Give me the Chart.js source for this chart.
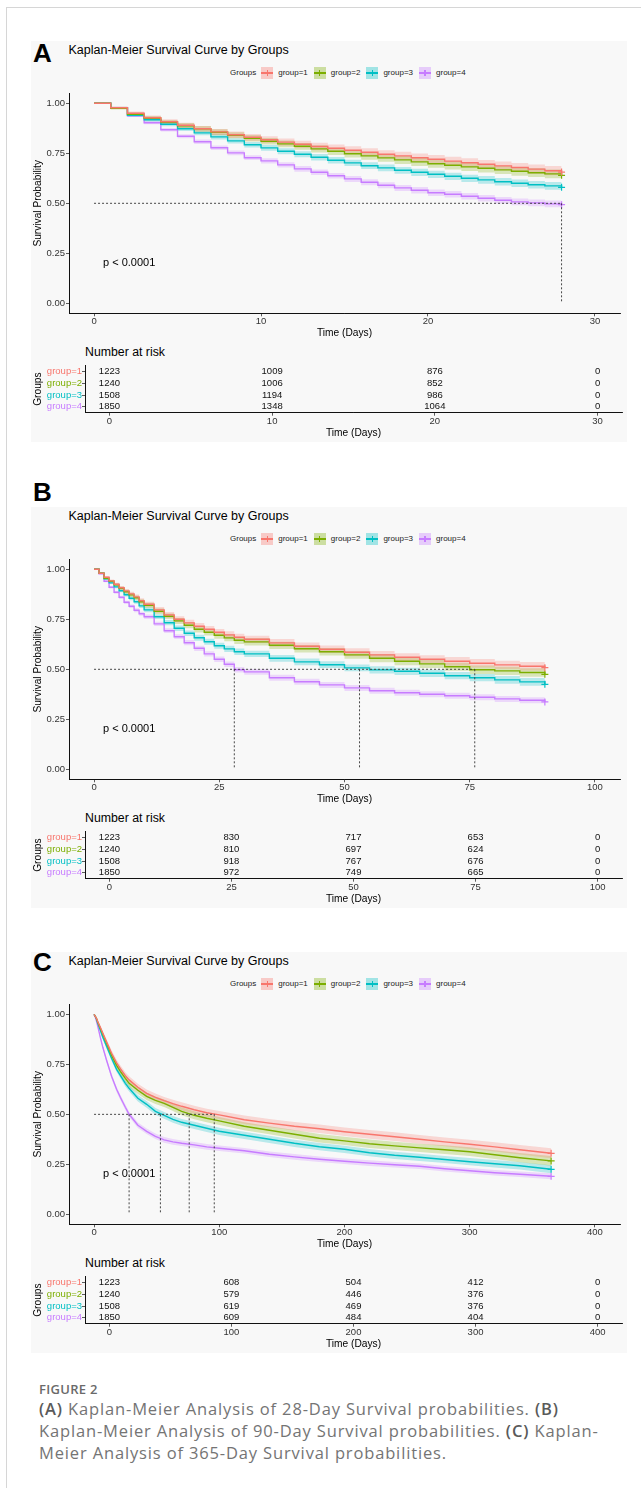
<!DOCTYPE html>
<html>
<head>
<meta charset="utf-8">
<title>Kaplan-Meier Survival Curves</title>
<script src="https://cdn.jsdelivr.net/npm/chart.js@4.4.1/dist/chart.umd.min.js"></script>
<style>
  html, body { margin: 0; padding: 0; background: #fff; }
  body { position: relative; width: 641px; height: 1488px; overflow: hidden; font-family: "Liberation Sans", Arial, sans-serif; color: #000; }
  .frame { position: absolute; left: 6px; top: 7px; right: -10px; bottom: -10px; border-left: 1px solid #d6d6d6; border-top: 1px solid #d6d6d6; }
  .panel-bg { position: absolute; left: 31px; width: 596px; background: #f8f8f8; }
  .txt { position: absolute; white-space: nowrap; line-height: 1; transform: translateY(-50%); }
  .letter { font-size: 26px; font-weight: bold; }
  .title { font-size: 12.5px; }
  .legend { position: absolute; display: flex; align-items: center; font-size: 8px; line-height: 1; transform: translateY(-50%); color: #222; white-space: nowrap; }
  .key { position: relative; width: 12px; height: 12px; margin-right: 5px; }
  .key .h { position: absolute; left: 0; right: 0; top: 5.4px; height: 1.2px; }
  .key .v { position: absolute; top: 3px; bottom: 3px; left: 5.4px; width: 1.2px; }
  .caption { position: absolute; left: 39px; font-family: "Open Sans", "Noto Sans", sans-serif; color: #747474; white-space: nowrap; }
  .caption b { font-weight: 600; color: #5a5a5a; }
  canvas { position: absolute; }
</style>
</head>
<body>
<div class="frame"></div>

<div class="caption" style="top:1381px; font-size:13px; line-height:16px; font-weight:600; letter-spacing:0.3px; color:#6a6a6a;">FIGURE 2</div>
<div class="caption" style="top:1398px; font-size:16.5px; line-height:22px; letter-spacing:0.85px;"><b>(A)</b> Kaplan-Meier Analysis of 28-Day Survival probabilities. <b>(B)</b><br>Kaplan-Meier Analysis of 90-Day Survival probabilities. <b>(C)</b> Kaplan-<br>Meier Analysis of 365-Day Survival probabilities.</div>

<script>
const FONT = '"Liberation Sans", Arial, sans-serif';

const groups = ['group=1', 'group=2', 'group=3', 'group=4'];
const groupColors = ['#F8766D', '#7CAE00', '#00BFC4', '#C77CFF'];
const yTicks = [0, 0.25, 0.5, 0.75, 1];
const pText = 'p < 0.0001';
const pAt = 0.2;

// ---- Panel A: 28-day ----
const daysA = [0,1,2,3,4,5,6,7,8,9,10,11,12,13,14,15,16,17,18,19,20,21,22,23,24,25,26,27,28];
const survA1 = [1,.978,.95,.928,.908,.89,.873,.857,.843,.83,.818,.806,.795,.784,.775,.765,.755,.745,.737,.728,.72,.711,.703,.695,.687,.679,.671,.663,.656];
const survA2 = [1,.975,.945,.925,.905,.888,.872,.855,.84,.825,.81,.797,.785,.772,.76,.748,.737,.727,.717,.707,.698,.69,.682,.675,.667,.66,.653,.647,.64];
const survA3 = [1,.978,.94,.918,.895,.873,.852,.832,.812,.793,.777,.76,.745,.73,.715,.702,.688,.677,.665,.655,.645,.635,.625,.617,.608,.6,.593,.587,.58];
const survA4 = [1,.978,.937,.903,.868,.835,.808,.778,.752,.728,.712,.692,.672,.655,.638,.622,.605,.59,.577,.565,.553,.545,.535,.525,.515,.507,.502,.497,.493];
const ciA1 = [0,.006,.009,.011,.012,.013,.014,.015,.016,.017,.017,.018,.018,.019,.019,.02,.02,.02,.021,.021,.021,.022,.022,.022,.022,.023,.023,.023,.023];
const ciA2 = [0,.006,.009,.011,.012,.013,.014,.015,.015,.016,.016,.017,.017,.018,.018,.019,.019,.019,.02,.02,.02,.021,.021,.021,.021,.022,.022,.022,.022];
const ciA3 = [0,.005,.008,.009,.01,.011,.012,.013,.013,.014,.014,.015,.015,.016,.016,.016,.017,.017,.017,.018,.018,.018,.018,.019,.019,.019,.019,.019,.019];
const ciA4 = [0,.004,.006,.008,.009,.01,.011,.011,.012,.012,.013,.013,.014,.014,.014,.015,.015,.015,.015,.016,.016,.016,.016,.016,.016,.017,.017,.017,.017];
const mediansA = [28];
const ticksA = [0, 10, 20, 30];
const riskA1 = [1223, 1009, 876, 0];
const riskA2 = [1240, 1006, 852, 0];
const riskA3 = [1508, 1194, 986, 0];
const riskA4 = [1850, 1348, 1064, 0];

// ---- Panel B: 90-day ----
const daysB = [0,1,2,3,4,5,6,7,8,9,10,12,14,16,18,20,22,24,26,28,30,35,40,45,50,55,60,65,70,75,80,85,90];
const survB1 = [1,.98,.96,.942,.925,.908,.892,.877,.862,.843,.825,.797,.772,.75,.732,.715,.70,.685,.672,.66,.65,.632,.615,.6,.585,.572,.56,.55,.54,.53,.522,.515,.508];
const survB2 = [1,.98,.955,.94,.922,.905,.888,.872,.858,.838,.82,.79,.765,.742,.72,.70,.685,.67,.657,.645,.637,.62,.603,.588,.572,.555,.54,.527,.513,.498,.492,.484,.475];
const survB3 = [1,.98,.952,.932,.912,.893,.873,.855,.838,.817,.797,.763,.733,.705,.68,.658,.638,.618,.602,.588,.577,.555,.537,.523,.507,.497,.49,.48,.468,.458,.447,.437,.425];
const survB4 = [1,.978,.94,.91,.885,.86,.835,.815,.795,.778,.763,.727,.693,.663,.633,.605,.577,.55,.525,.498,.487,.458,.438,.422,.407,.393,.383,.375,.368,.36,.352,.345,.337];
const ciB1 = [0,.004,.006,.007,.008,.009,.01,.011,.012,.012,.013,.014,.015,.015,.016,.016,.017,.017,.018,.018,.018,.019,.019,.019,.02,.02,.02,.02,.021,.021,.021,.021,.021];
const ciB2 = [0,.004,.006,.007,.008,.009,.01,.011,.011,.012,.013,.014,.014,.015,.015,.016,.016,.017,.017,.018,.018,.018,.019,.019,.019,.02,.02,.02,.02,.021,.021,.021,.021];
const ciB3 = [0,.004,.005,.006,.007,.008,.009,.01,.01,.011,.012,.012,.013,.014,.014,.015,.015,.015,.016,.016,.016,.017,.017,.017,.017,.018,.018,.018,.018,.018,.019,.019,.019];
const ciB4 = [0,.003,.005,.006,.007,.008,.008,.009,.01,.01,.011,.011,.012,.012,.013,.013,.013,.014,.014,.014,.014,.015,.015,.015,.015,.015,.015,.015,.015,.015,.015,.015,.015];
const mediansB = [28, 53, 76];
const ticksB = [0, 25, 50, 75, 100];
const riskB1 = [1223, 830, 717, 653, 0];
const riskB2 = [1240, 810, 697, 624, 0];
const riskB3 = [1508, 918, 767, 676, 0];
const riskB4 = [1850, 972, 749, 665, 0];

// ---- Panel C: 365-day ----
const daysC = [0,1,2,3,5,7,10,14,18,21,25,28,35,42,49,56,63,70,80,90,100,120,140,160,180,200,220,240,260,280,300,320,340,365];
const survC1 = [1,.99,.98,.963,.935,.905,.862,.805,.757,.728,.693,.672,.635,.605,.585,.568,.553,.54,.523,.508,.497,.473,.456,.44,.428,.413,.4,.388,.375,.362,.35,.337,.323,.305];
const survC2 = [1,.99,.978,.96,.93,.9,.855,.795,.745,.715,.68,.655,.62,.59,.57,.555,.535,.515,.495,.48,.467,.44,.42,.4,.38,.367,.353,.342,.332,.323,.313,.298,.283,.267];
const survC3 = [1,.99,.975,.955,.92,.885,.84,.78,.725,.695,.655,.63,.58,.55,.515,.495,.475,.46,.445,.43,.415,.395,.375,.355,.338,.325,.308,.295,.285,.274,.263,.253,.243,.225];
const survC4 = [1,.985,.965,.94,.885,.835,.77,.69,.625,.585,.535,.50,.445,.415,.39,.372,.362,.355,.347,.337,.33,.318,.3,.287,.275,.265,.256,.248,.24,.228,.218,.208,.2,.19];
const ciC1 = [0,.003,.005,.008,.009,.011,.013,.015,.016,.017,.0175,.018,.018,.019,.019,.019,.02,.02,.02,.02,.02,.021,.021,.021,.021,.021,.022,.022,.022,.022,.023,.023,.024,.025];
const ciC2 = [0,.003,.005,.008,.009,.011,.013,.015,.016,.017,.0175,.018,.018,.019,.019,.019,.019,.02,.02,.02,.02,.02,.02,.021,.021,.021,.021,.021,.021,.022,.022,.022,.023,.024];
const ciC3 = [0,.003,.005,.007,.008,.01,.012,.013,.014,.015,.0155,.016,.016,.017,.017,.017,.017,.017,.018,.018,.018,.018,.018,.018,.018,.018,.018,.018,.018,.018,.018,.019,.019,.02];
const ciC4 = [0,.002,.004,.006,.007,.009,.011,.012,.013,.013,.014,.014,.014,.014,.014,.014,.014,.014,.014,.014,.014,.014,.014,.014,.014,.014,.014,.014,.014,.014,.014,.014,.014,.015];
const mediansC = [28, 53, 76, 96];
const ticksC = [0, 100, 200, 300, 400];
const riskC1 = [1223, 608, 504, 412, 0];
const riskC2 = [1240, 579, 446, 376, 0];
const riskC3 = [1508, 619, 469, 376, 0];
const riskC4 = [1850, 609, 484, 404, 0];

const panels = [
  { letter: 'A', letterY: 53, T: 50, days: daysA, surv: [survA1, survA2, survA3, survA4], ci: [ciA1, ciA2, ciA3, ciA4],
    medians: mediansA, xTicks: ticksA, xMin: -1.5, xMax: 31.5, risk: [riskA1, riskA2, riskA3, riskA4], stepped: 'before' },
  { letter: 'B', letterY: 492, T: 516, days: daysB, surv: [survB1, survB2, survB3, survB4], ci: [ciB1, ciB2, ciB3, ciB4],
    medians: mediansB, xTicks: ticksB, xMin: -5, xMax: 105, risk: [riskB1, riskB2, riskB3, riskB4], stepped: 'before' },
  { letter: 'C', letterY: 961.7, T: 961, days: daysC, surv: [survC1, survC2, survC3, survC4], ci: [ciC1, ciC2, ciC3, ciC4],
    medians: mediansC, xTicks: ticksC, xMin: -20, xMax: 420, risk: [riskC1, riskC2, riskC3, riskC4], stepped: false }
];

function rgba(hex, a) {
  const n = parseInt(hex.slice(1), 16);
  return `rgba(${(n >> 16) & 255},${(n >> 8) & 255},${n & 255},${a})`;
}

function addText(text, x, y, cls, extra) {
  const d = document.createElement('div');
  d.className = 'txt ' + (cls || '');
  d.textContent = text;
  d.style.left = x + 'px';
  d.style.top = y + 'px';
  if (extra) Object.assign(d.style, extra);
  document.body.appendChild(d);
  return d;
}

function addCanvas(x, y, w, h) {
  const c = document.createElement('canvas');
  c.width = w; c.height = h;
  c.style.left = x + 'px'; c.style.top = y + 'px';
  c.style.width = w + 'px'; c.style.height = h + 'px';
  document.body.appendChild(c);
  return c;
}

function addLegend(x, y) {
  const lg = document.createElement('div');
  lg.className = 'legend';
  lg.style.left = x + 'px';
  lg.style.top = y + 'px';
  const head = document.createElement('span');
  head.textContent = 'Groups';
  head.style.marginRight = '5px';
  lg.appendChild(head);
  groups.forEach((g, i) => {
    const key = document.createElement('span');
    key.className = 'key';
    key.style.background = rgba(groupColors[i], 0.35);
    key.innerHTML = `<span class="h" style="background:${groupColors[i]}"></span><span class="v" style="background:${groupColors[i]}"></span>`;
    lg.appendChild(key);
    const lab = document.createElement('span');
    lab.textContent = g;
    lab.style.marginRight = '6px';
    lg.appendChild(lab);
  });
  document.body.appendChild(lg);
}

// p-value text, placed in data coordinates
const pLabel = {
  id: 'pLabel',
  afterDatasetsDraw(chart) {
    const { x, y } = chart.scales;
    const ctx = chart.ctx;
    ctx.save();
    ctx.font = '11px ' + FONT;
    ctx.fillStyle = '#000';
    ctx.textAlign = 'left';
    ctx.textBaseline = 'middle';
    ctx.fillText(pText, x.getPixelForValue(0) + 9, y.getPixelForValue(pAt));
    ctx.restore();
  }
};

// numbers at risk, drawn at the positions of the (hidden) table points
const riskNumbers = {
  id: 'riskNumbers',
  afterDatasetsDraw(chart) {
    const ctx = chart.ctx;
    ctx.save();
    ctx.font = '9.5px ' + FONT;
    ctx.fillStyle = '#111';
    ctx.textAlign = 'center';
    ctx.textBaseline = 'middle';
    chart.data.datasets.forEach((ds, i) => {
      chart.getDatasetMeta(i).data.forEach((pt, j) => {
        ctx.fillText(String(ds.data[j].n), pt.x, pt.y);
      });
    });
    ctx.restore();
  }
};

function axisBase(p, height, pad) {
  return {
    type: 'linear', min: p.xMin, max: p.xMax,
    afterBuildTicks: s => { s.ticks = p.xTicks.map(v => ({ value: v })); },
    afterFit: s => { s.height = height; },
    grid: { drawOnChartArea: false, tickLength: 3, color: '#333', tickColor: '#333', lineWidth: 0.8 },
    border: { display: true, color: '#111', width: 1 },
    ticks: { font: { family: FONT, size: 9.5, lineHeight: 1 }, color: '#333', padding: pad, maxRotation: 0, autoSkip: false, callback: v => String(v) },
    title: { display: true, text: 'Time (Days)', font: { family: FONT, size: 10.2 }, color: '#000', padding: 0 }
  };
}

function buildPanel(p) {
  const T = p.T;

  const bg = document.createElement('div');
  bg.className = 'panel-bg';
  bg.style.top = (T - 9) + 'px';
  bg.style.height = '401px';
  document.body.insertBefore(bg, document.body.firstChild.nextSibling);

  addText(p.letter, 33, p.letterY, 'letter');
  addText('Kaplan-Meier Survival Curve by Groups', 68.5, T, 'title');
  addLegend(230, T + 23);

  // ---- survival curves with confidence bands ----
  const datasets = [];
  p.surv.forEach((s, g) => {
    datasets.push({
      data: p.days.map((d, i) => ({ x: d, y: s[i] + p.ci[g][i] })),
      borderWidth: 0, pointRadius: 0, stepped: p.stepped, tension: 0,
      fill: '+1', backgroundColor: rgba(groupColors[g], 0.26), order: 3
    });
    datasets.push({
      data: p.days.map((d, i) => ({ x: d, y: s[i] - p.ci[g][i] })),
      borderWidth: 0, pointRadius: 0, stepped: p.stepped, tension: 0,
      fill: false, order: 3
    });
  });
  p.surv.forEach((s, g) => {
    datasets.push({
      data: p.days.map((d, i) => ({ x: d, y: s[i] })),
      borderColor: groupColors[g], borderWidth: 1.4, stepped: p.stepped, tension: 0, fill: false,
      pointStyle: 'cross', pointBorderColor: groupColors[g], pointBorderWidth: 1.2,
      pointRadius: c => (c.dataIndex === p.days.length - 1 ? 3.5 : 0), order: 1
    });
  });
  const medStyle = { borderColor: '#333', borderWidth: 0.9, borderDash: [2, 2], pointRadius: 0, fill: false, order: 0 };
  datasets.push(Object.assign({ data: [{ x: 0, y: 0.5 }, { x: Math.max(...p.medians), y: 0.5 }] }, medStyle));
  p.medians.forEach(m => {
    datasets.push(Object.assign({ data: [{ x: m, y: 0.5 }, { x: m, y: 0 }] }, medStyle));
  });

  const km = addCanvas(32, T + 35, 598, 254);
  new Chart(km, {
    type: 'line',
    data: { datasets },
    options: {
      responsive: false, animation: false, events: [],
      layout: { padding: { top: 8.3, right: 10, left: 0, bottom: 0 } },
      plugins: { legend: { display: false }, tooltip: { enabled: false } },
      scales: {
        x: axisBase(p, 25.7, 0),
        y: {
          type: 'linear', min: -0.05, max: 1.05,
          afterBuildTicks: s => { s.ticks = yTicks.map(v => ({ value: v })); },
          afterFit: s => { s.width = 37; },
          grid: { drawOnChartArea: false, tickLength: 3, color: '#333', tickColor: '#333', lineWidth: 0.8 },
          border: { display: true, color: '#111', width: 1 },
          ticks: { font: { family: FONT, size: 9.5, lineHeight: 1 }, color: '#333', padding: 1, callback: v => Number(v).toFixed(2) },
          title: { display: true, text: 'Survival Probability', font: { family: FONT, size: 10.2 }, color: '#000', padding: 0 }
        }
      }
    },
    plugins: [pLabel]
  });

  // ---- number at risk table ----
  addText('Number at risk', 85, T + 302.3, 'title', { fontSize: '12.3px' });
  const tableSets = p.risk.map((row, g) => ({
    data: p.xTicks.map((t, j) => ({ x: t, y: groups[g], n: row[j] })),
    pointRadius: 0
  }));
  const tb = addCanvas(32, T + 310, 598, 79);
  new Chart(tb, {
    type: 'scatter',
    data: { datasets: tableSets },
    options: {
      responsive: false, animation: false, events: [],
      layout: { padding: { top: 5.6, right: 8, left: 0, bottom: 0 } },
      plugins: { legend: { display: false }, tooltip: { enabled: false } },
      scales: {
        x: axisBase(p, 26.3, 1),
        y: {
          type: 'category', labels: groups, offset: true,
          afterFit: s => { s.width = 53; },
          grid: { drawOnChartArea: false, offset: false, tickLength: 3, color: '#333', tickColor: '#333', lineWidth: 0.8 },
          border: { display: true, color: '#111', width: 1 },
          ticks: { font: { family: FONT, size: 9.5, lineHeight: 1 }, color: c => groupColors[c.index], padding: 0, autoSkip: false },
          title: { display: true, text: 'Groups', font: { family: FONT, size: 10.2 }, color: '#000', padding: 0 }
        }
      }
    },
    plugins: [riskNumbers]
  });
}

panels.forEach(buildPanel);
</script>
</body>
</html>
